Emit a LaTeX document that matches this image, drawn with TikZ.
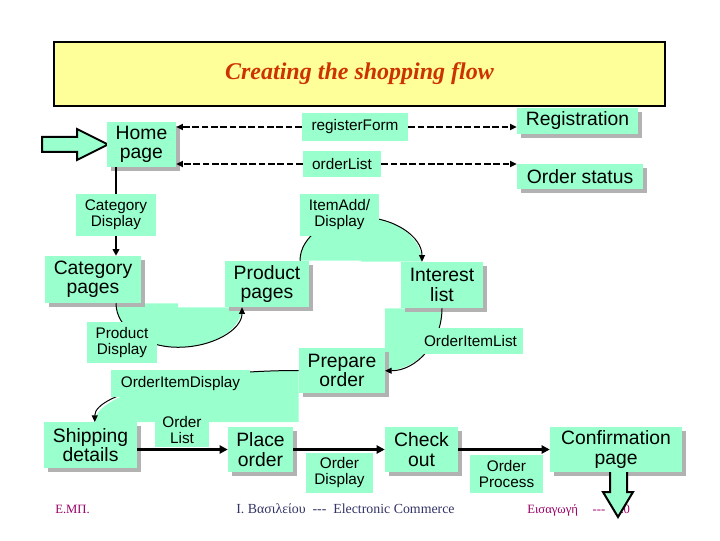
\documentclass[tikz,border=0pt]{standalone}
\usepackage{fontspec}
\setmainfont{Liberation Sans}
\newfontfamily\slidefont{Liberation Serif}
\usetikzlibrary{arrows.meta,shadows,backgrounds}
\definecolor{mint}{RGB}{153,255,204}
\definecolor{titlefill}{RGB}{255,255,153}
\definecolor{titlered}{RGB}{204,51,0}
\definecolor{footmag}{RGB}{153,0,102}
\definecolor{footnavy}{RGB}{51,51,102}
\definecolor{shade}{RGB}{178,178,178}
\tikzset{
  boxsize/.style 2 args={minimum width=#1*0.75pt,minimum height=#2*0.75pt},
  pagebox/.style={fill=mint,inner sep=0pt,align=center,
    font=\fontsize{14.5}{14.5}\selectfont,
    drop shadow={shadow xshift=3pt,shadow yshift=-3pt,fill=shade,opacity=1}},
  callbox/.style={fill=mint,inner sep=0pt,align=center,
    font=\fontsize{11.5}{12}\selectfont},
  footer/.style={font=\slidefont\fontsize{9.5}{10}\selectfont,inner sep=0pt},
  link/.style={line width=1.4pt,dash pattern=on 5pt off 2pt,
    -{Triangle[length=5pt,width=4.5pt]}},
  flow/.style={line width=1.8pt,-{Triangle[length=6pt,width=6pt]}},
  arcline/.style={line width=0.75pt,-{Triangle[length=5pt,width=4.5pt]}},
  blockarrow/.style={line width=1.5pt,fill=mint}
}
\begin{document}
\begin{tikzpicture}[x=0.75pt,y=0.75pt]
\useasboundingbox (0,0) rectangle (720,540);
% ---------- title ----------
\node[draw,line width=1.5pt,fill=titlefill,boxsize={611}{64},
  font=\slidefont\bfseries\itshape\fontsize{18}{18}\selectfont,text=titlered]
  (title) at (359.5,466) {Creating the shopping flow};
% ---------- footer ----------
\node[footer,text=footmag,anchor=base west] (school) at (55,27) {Ε.ΜΠ.};
\node[footer,text=footnavy,anchor=base west,font=\slidefont\fontsize{10.4}{11}\selectfont]
  (author) at (236,27) {Ι. Βασιλείου \ -{}-{}- \ Electronic Commerce};
\node[footer,text=footmag,anchor=base west] (slideno) at (527,27)
  {Εισαγωγή\hspace{11pt}-{}-{}-\hspace{9pt}20};
% ---------- entry arrow ----------
\draw[blockarrow] (108,395.5) -- (77,411) -- (77,403) -- (42,403)
  -- (42,388) -- (77,388) -- (77,380) -- cycle;
% ---------- pages ----------
\node[pagebox,boxsize={69}{45}]  (homepage)     at (141.5,395.5) {Home\\page};
\node[pagebox,boxsize={121}{26}] (registration) at (577.5,419)   {Registration};
\node[pagebox,boxsize={126}{25}] (ordstatus)    at (580,363.5)   {Order status};
\node[pagebox,boxsize={96}{47}]  (catpages)     at (93,260.5)    {Category\\pages};
\node[pagebox,boxsize={84}{46}]  (prodpages)    at (267,256)     {Product\\pages};
\node[pagebox,boxsize={82}{46}]  (interest)     at (442,255)     {Interest\\list};
\node[pagebox,boxsize={86}{45}]  (prepare)      at (342,169.5)   {Prepare\\order};
\node[pagebox,boxsize={93}{46}]  (shipping)     at (90.5,95)     {Shipping\\details};
\node[pagebox,boxsize={65}{45}]  (placeorder)   at (260.5,90.5)  {Place\\order};
\node[pagebox,boxsize={73}{45}]  (checkout)     at (421.5,90.5)  {Check\\out};
\node[pagebox,boxsize={132}{45}] (confirm)      at (616,90.5)    {Confirmation\\page};
\coordinate (trunk) at (116,0);
\coordinate (addleg) at (300,0);
% ---------- shaded sweeps under the arcs ----------
\begin{pgfonlayer}{background}
\fill[mint] (trunk |- catpages.south)
  arc[start angle=180,end angle=270,x radius=62,y radius=44] -- ++(0,44) -- cycle;
\fill[mint] (trunk |- catpages.south) ++(62,-44)
  arc[start angle=270,end angle=360,x radius=64,y radius=40] -- ++(-64,0) -- cycle;
\fill[mint] (addleg |- prodpages.north)
  arc[start angle=180,end angle=90,x radius=61,y radius=43.5] -- ++(0,-43.5) -- cycle;
\fill[mint] (addleg |- prodpages.north) ++(61,43.5)
  arc[start angle=90,end angle=0,x radius=61,y radius=44.5] -- ++(-61,0) -- cycle;
\fill[mint] (interest.south)
  arc[start angle=0,end angle=-90,x radius=57,y radius=62.5] -- ++(0,62.5) -- cycle;
\fill[mint] (prepare.west)
  arc[start angle=90,end angle=180,x radius=204,y radius=51.5] -- ++(204,0) -- cycle;
\end{pgfonlayer}
% ---------- arcs ----------
\draw[line width=1.5pt,-{Triangle[length=5pt,width=5pt]}]
  (trunk |- homepage.south) -- (trunk |- catpages.north);
\draw[arcline] (trunk |- catpages.south)
  arc[start angle=180,end angle=270,x radius=62,y radius=44]
  arc[start angle=270,end angle=360,x radius=64,y radius=40];
\draw[arcline] (addleg |- prodpages.north)
  arc[start angle=180,end angle=90,x radius=61,y radius=43.5]
  arc[start angle=90,end angle=0,x radius=61,y radius=44.5];
\draw[arcline] (interest.south)
  arc[start angle=0,end angle=-90,x radius=57,y radius=62.5];
\draw[arcline] (prepare.west)
  arc[start angle=90,end angle=180,x radius=204,y radius=51.5];
% ---------- calls ----------
\node[callbox,boxsize={106}{28}] (regform)     at (355,413)     {registerForm};
\node[callbox,boxsize={78}{26}]  (orderlist)   at (342,376)     {orderList};
\node[callbox,boxsize={80}{42}]  (catdisp)     at (116,325)     {Category\\Display};
\node[callbox,boxsize={79}{42}]  (itemadd)     at (339.5,325)   {ItemAdd/\\Display};
\node[callbox,boxsize={70}{41}]  (proddisp)    at (122,197.5)   {Product\\Display};
\node[callbox,boxsize={105}{26}] (orditemlist) at (470.5,199)   {OrderItemList};
\node[callbox,boxsize={139}{27}] (orditemdisp) at (180.5,156.5) {OrderItemDisplay};
\node[callbox,boxsize={54}{34}]  (ordlistcall) at (182,110)     {Order\\List};
\node[callbox,boxsize={67}{40}]  (orddisp)     at (339.5,67)    {Order\\Display};
\node[callbox,boxsize={73}{38}]  (ordproc)     at (506.5,66)    {Order\\Process};
% ---------- dashed links ----------
\draw[link] (regform.west) -- (homepage.east |- regform.west);
\draw[link] (regform.east) -- (regform.east -| registration.west);
\draw[link] (orderlist.west) -- (homepage.east |- orderlist.west);
\draw[link] (orderlist.east) -- (orderlist.east -| ordstatus.west);
% ---------- order flow ----------
\draw[flow] (shipping.east |- placeorder.west) -- (placeorder.west);
\draw[flow] (placeorder.east) -- (checkout.west);
\draw[flow] (checkout.east) -- (confirm.west);
% exit arrow
\fill[mint] (610,68) -- (610,48) -- (603,48) -- (618,23) -- (633,48)
  -- (627,48) -- (627,68) -- cycle;
\draw[line width=1.5pt] (610,68) -- (610,48) -- (603,48) -- (618,23)
  -- (633,48) -- (627,48) -- (627,68);
\end{tikzpicture}
\end{document}
